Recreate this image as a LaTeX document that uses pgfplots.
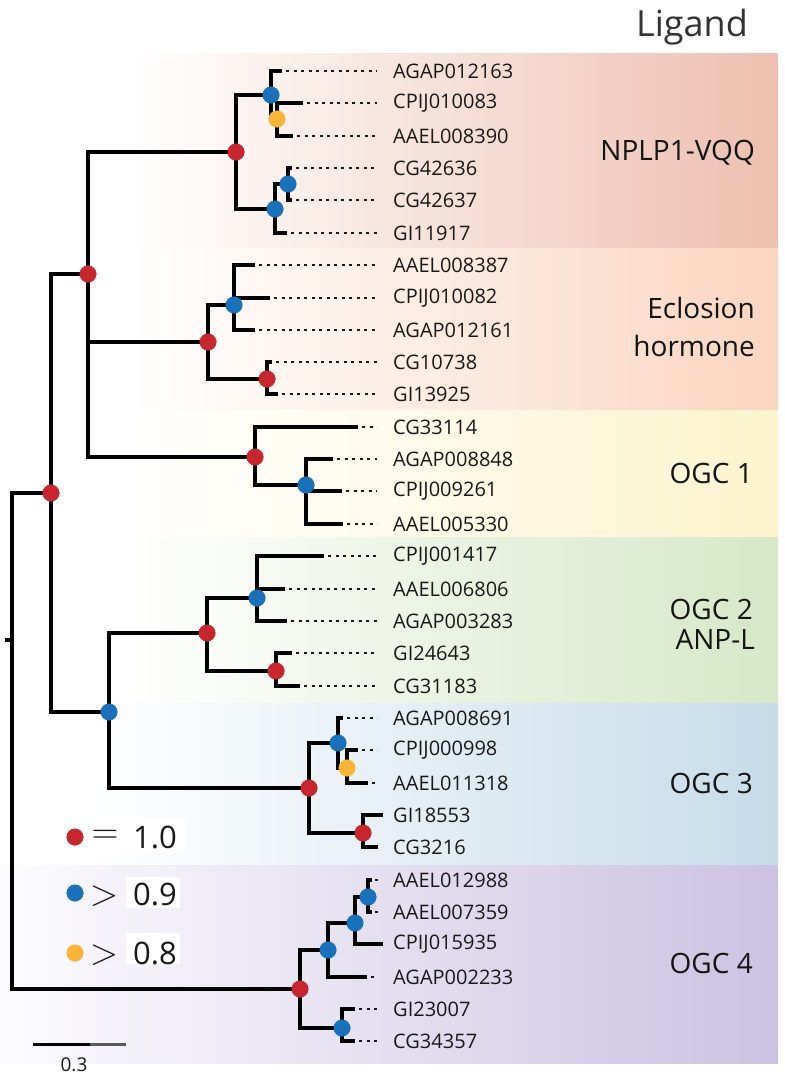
\documentclass[border=0pt]{standalone}
\usepackage{pgfplots}
\pgfplotsset{compat=1.18}
\usepackage{fontspec}
\setmainfont{Open Sans}
\definecolor{cred}{RGB}{200,38,46}
\definecolor{cblue}{RGB}{25,113,185}
\definecolor{corange}{RGB}{250,180,55}
\definecolor{bnpl}{RGB}{237,192,175}
\definecolor{becl}{RGB}{250,214,192}
\definecolor{bogca}{RGB}{253,244,206}
\definecolor{bogcb}{RGB}{214,232,198}
\definecolor{bogcc}{RGB}{198,220,234}
\definecolor{bogcd}{RGB}{204,194,227}
\tikzset{
  leaf/.style={anchor=west, inner sep=0pt, font=\fontsize{20bp}{23bp}\selectfont, text=black!90},
  grp/.style={anchor=base east, inner sep=0pt, font=\fontsize{28bp}{32bp}\selectfont, text=black!92},
  leg/.style={anchor=west, inner sep=0pt, font=\fontsize{31bp}{34bp}\selectfont, text=black!90},
}
\begin{document}
\begin{tikzpicture}
\begin{axis}[
  width=784bp, height=1079bp, scale only axis,
  xmin=0, xmax=784, ymin=0, ymax=1079, y dir=reverse,
  hide axis, clip=false, unbounded coords=jump,
]
% canvas
\addplot[draw=none, fill=white] coordinates {(0,0)(784,0)(784,1079)(0,1079)} -- cycle;
% bands
\addplot[draw=none, left color=white, right color=bnpl] coordinates {(130,53)(778,53)(778,248)(130,248)} -- cycle;
\addplot[draw=none, left color=white, right color=becl] coordinates {(130,248)(778,248)(778,410)(130,410)} -- cycle;
\addplot[draw=none, left color=white, right color=bogca] coordinates {(130,410)(778,410)(778,537)(130,537)} -- cycle;
\addplot[draw=none, left color=white, right color=bogcb] coordinates {(120,537)(778,537)(778,703)(120,703)} -- cycle;
\addplot[draw=none, left color=white, right color=bogcc] coordinates {(90,703)(778,703)(778,865)(90,865)} -- cycle;
\addplot[draw=none, left color=white!94!bogcd, right color=bogcd] coordinates {(0,865)(778,865)(778,1063)(0,1063)} -- cycle;
% legend boxes
\addplot[draw=none, fill=white] coordinates {(86,818)(185,818)(185,853)(86,853)} -- cycle;
\addplot[draw=none, fill=white] coordinates {(126,877)(180,877)(180,908)(126,908)} -- cycle;
\addplot[draw=none, fill=white] coordinates {(126,933)(180,933)(180,964)(126,964)} -- cycle;
% leaders
\addplot[black!90, line width=1.8bp, dash pattern=on 3bp off 4.5bp] coordinates {
(286,71)(377,71) (nan,nan) (307,103)(377,103) (nan,nan) (297,136)(377,136) (nan,nan)
(296,168)(377,168) (nan,nan) (296,200)(377,200) (nan,nan) (291,233)(377,233) (nan,nan)
(259,265)(377,265) (nan,nan) (274,298)(377,298) (nan,nan) (259,330)(377,330) (nan,nan)
(276,362)(377,362) (nan,nan) (282,394)(377,394) (nan,nan) (362,427)(377,427) (nan,nan)
(337,459)(377,459) (nan,nan) (346,491)(377,491) (nan,nan) (347,524)(377,524) (nan,nan)
(328,556)(377,556) (nan,nan) (289,589)(377,589) (nan,nan) (291,621)(377,621) (nan,nan)
(296,653)(377,653) (nan,nan) (304,686)(377,686) (nan,nan) (347,718)(377,718) (nan,nan)
(362,750)(377,750) (nan,nan) (372,783)(377,783) (nan,nan)
(375,880)(378,880) (nan,nan) (375,912)(378,912) (nan,nan)
(371,977)(377,977) (nan,nan) (359,1009)(377,1009) (nan,nan) (359,1041)(377,1041)
};
% tree
\addplot[black, line width=3.8bp, line join=miter] coordinates {
(5,640)(12,640) (nan,nan)
(51,493)(12,493)(12,989)(300,989) (nan,nan)
(88,274)(51,274)(51,712)(109,712) (nan,nan)
(236,152)(88,152)(88,457)(255,457) (nan,nan) (88,342)(208,342) (nan,nan)
(271,95)(236,95)(236,209)(275,209) (nan,nan)
(282,71)(271,71)(271,119)(277,119) (nan,nan)
(303,103)(277,103)(277,136)(293,136) (nan,nan)
(288,184)(275,184)(275,233)(287,233) (nan,nan)
(292,168)(288,168)(288,200)(292,200) (nan,nan)
(234,305)(208,305)(208,379)(267,379) (nan,nan)
(255,265)(234,265)(234,330)(255,330) (nan,nan) (234,298)(270,298) (nan,nan)
(272,362)(267,362)(267,394)(278,394) (nan,nan)
(358,427)(255,427)(255,485)(306,485) (nan,nan)
(333,459)(306,459)(306,524)(343,524) (nan,nan) (306,491)(342,491) (nan,nan)
(207,633)(109,633)(109,788)(309,788) (nan,nan)
(257,598)(207,598)(207,671)(276,671) (nan,nan)
(324,556)(257,556)(257,621)(287,621) (nan,nan) (257,589)(285,589) (nan,nan)
(292,653)(276,653)(276,686)(300,686) (nan,nan)
(338,743)(309,743)(309,833)(363,833) (nan,nan)
(343,718)(338,718)(338,768)(347,768) (nan,nan)
(358,750)(347,750)(347,783)(368,783) (nan,nan)
(383,815)(363,815)(363,847)(378,847) (nan,nan)
(328,950)(300,950)(300,1028)(342,1028) (nan,nan)
(355,923)(328,923)(328,977)(367,977) (nan,nan)
(368,897)(355,897)(355,944)(383,944) (nan,nan)
(372,880)(368,880)(368,912)(372,912) (nan,nan)
(355,1009)(342,1009)(342,1041)(355,1041)
};
% scale bar
\addplot[black, line width=3bp] coordinates {(33,1044)(91,1044)};
\addplot[black!65, line width=3bp] coordinates {(90,1044)(126,1044)};
% nodes
\addplot[only marks, mark=*, mark size=8.3bp, color=cred, mark options={draw=none, fill=cred}] coordinates {
(236,152)(88,274)(208,342)(267,379)(255,457)(51,493)(207,633)(276,671)(309,788)(363,833)(300,989)(75,837)};
\addplot[only marks, mark=*, mark size=8.3bp, color=cblue, mark options={draw=none, fill=cblue}] coordinates {
(271,95)(275,209)(288,184)(234,305)(306,485)(257,598)(109,712)(338,743)(328,950)(355,923)(368,897)(342,1028)(75,893)};
\addplot[only marks, mark=*, mark size=8.3bp, color=corange, mark options={draw=none, fill=corange}] coordinates {
(277,119)(347,768)(75,953)};
% leaf labels
\node[leaf] at (axis cs:393,71) {AGAP012163};
\node[leaf] at (axis cs:393,103) {CPIJ010083};
\node[leaf] at (axis cs:393,136) {AAEL008390};
\node[leaf] at (axis cs:393,168) {CG42636};
\node[leaf] at (axis cs:393,200) {CG42637};
\node[leaf] at (axis cs:393,233) {GI11917};
\node[leaf] at (axis cs:393,265) {AAEL008387};
\node[leaf] at (axis cs:393,298) {CPIJ010082};
\node[leaf] at (axis cs:393,330) {AGAP012161};
\node[leaf] at (axis cs:393,362) {CG10738};
\node[leaf] at (axis cs:393,394) {GI13925};
\node[leaf] at (axis cs:393,427) {CG33114};
\node[leaf] at (axis cs:393,459) {AGAP008848};
\node[leaf] at (axis cs:393,491) {CPIJ009261};
\node[leaf] at (axis cs:393,524) {AAEL005330};
\node[leaf] at (axis cs:393,556) {CPIJ001417};
\node[leaf] at (axis cs:393,589) {AAEL006806};
\node[leaf] at (axis cs:393,621) {AGAP003283};
\node[leaf] at (axis cs:393,653) {GI24643};
\node[leaf] at (axis cs:393,686) {CG31183};
\node[leaf] at (axis cs:393,718) {AGAP008691};
\node[leaf] at (axis cs:393,750) {CPIJ000998};
\node[leaf] at (axis cs:393,783) {AAEL011318};
\node[leaf] at (axis cs:393,815) {GI18553};
\node[leaf] at (axis cs:393,847) {CG3216};
\node[leaf] at (axis cs:393,880) {AAEL012988};
\node[leaf] at (axis cs:393,912) {AAEL007359};
\node[leaf] at (axis cs:393,944) {CPIJ015935};
\node[leaf] at (axis cs:393,977) {AGAP002233};
\node[leaf] at (axis cs:393,1009) {GI23007};
\node[leaf] at (axis cs:393,1041) {CG34357};
% group labels
\node[anchor=base east, inner sep=0pt, font=\fontsize{36bp}{40bp}\selectfont, text=black!80] at (axis cs:748,36) {Ligand};
\node[grp] at (axis cs:755,160) {NPLP1-VQQ};
\node[grp] at (axis cs:755,318) {Eclosion};
\node[grp] at (axis cs:755,356) {hormone};
\node[grp] at (axis cs:753,483) {OGC 1};
\node[grp] at (axis cs:753,619) {OGC 2};
\node[grp] at (axis cs:755,649) {ANP-L};
\node[grp] at (axis cs:753,793) {OGC 3};
\node[grp] at (axis cs:753,973) {OGC 4};
% legend text
\node[leg, anchor=center] at (axis cs:105,837) {\scalebox{1.5}{$=$}};
\node[leg] at (axis cs:133,837) {1.0};
\node[leg, anchor=center] at (axis cs:104,896) {\scalebox{1.5}{$>$}};
\node[leg] at (axis cs:133,894) {0.9};
\node[leg, anchor=center] at (axis cs:104,955) {\scalebox{1.5}{$>$}};
\node[leg] at (axis cs:133,953) {0.8};
\node[anchor=north, inner sep=0pt, font=\fontsize{19bp}{22bp}\selectfont, text=black!90] at (axis cs:74,1058) {0.3};
\end{axis}
\end{tikzpicture}
\end{document}
